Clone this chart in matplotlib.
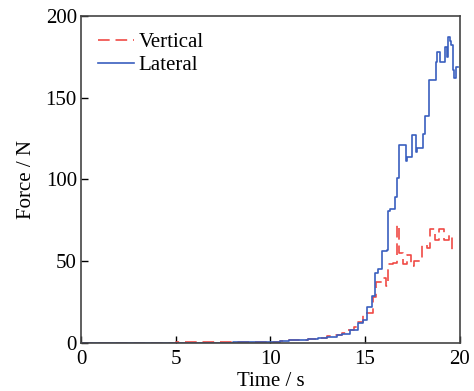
import matplotlib
matplotlib.use("Agg")
import matplotlib.pyplot as plt

# time (s) and force (N), step data
lat_t = [0, 5, 8, 9.5, 10.5, 11, 11.5, 12, 12.5, 13, 13.5, 13.8, 14.2, 14.6,
         14.9, 15.1, 15.35, 15.5, 15.7, 15.9, 16.15, 16.2, 16.3, 16.57,
         16.68, 16.78, 17.15, 17.2, 17.5, 17.7, 17.75, 18.05, 18.15, 18.4,
         18.72, 18.8, 18.93, 19.2, 19.3, 19.37, 19.47, 19.55, 19.62, 19.72,
         19.78, 19.9]
lat_f = [0, 0.2, 0.4, 0.7, 1.0, 1.5, 1.8, 2.3, 2.8, 3.5, 5, 5.5, 8, 12,
         14, 22, 29, 43, 45, 56, 57, 81, 82, 89,
         101, 121, 111, 114, 127, 117, 119, 128, 139, 161,
         172, 178, 172, 181, 175, 187, 185, 182, 167, 162,
         169, 169]

ver_t = [0, 5, 8, 9.5, 10.5, 11, 11.5, 12, 12.5, 13, 13.4, 13.8, 14.1, 14.4,
         14.6, 14.9, 15.4, 15.6, 15.9, 16.12, 16.22, 16.45, 16.67, 16.8,
         17.0, 17.2, 17.4, 17.6, 18.02, 18.28, 18.42, 18.7, 18.88, 19.18,
         19.42, 19.6, 19.85]
ver_f = [0, 0.3, 0.5, 0.8, 1.2, 1.7, 2, 2.5, 3, 4, 5, 6, 8, 10,
         13, 18, 28, 37, 40, 35, 48, 49, 72, 55,
         48, 54, 47, 50, 60, 58, 70, 63, 70, 63,
         66, 57, 57]

xticks = [0, 5, 10, 15, 20]
yticks = [0, 50, 100, 150, 200]

plt.rcParams['font.family'] = 'Liberation Serif'
plt.rcParams['font.size'] = 15

fig = plt.figure(figsize=(4.74, 3.91), dpi=100)
ax = fig.add_axes([0.171, 0.123, 0.799, 0.836])

ax.plot(ver_t, ver_f, drawstyle='steps-post', color='#f04a45', lw=1.2,
        dashes=(7, 3.5), label='Vertical')
ax.plot(lat_t, lat_f, drawstyle='steps-post', color='#3a5fbf', lw=1.2,
        label='Lateral')

ax.set_xlim(0, 20)
ax.set_ylim(0, 200)
ax.set_xticks(xticks)
ax.set_yticks(yticks)
ax.tick_params(direction='in', length=5, width=1, top=False, right=False,
               labelsize=15)
ax.tick_params(axis='x', pad=5)
ax.tick_params(axis='y', pad=3)
for s in ax.spines.values():
    s.set_color('#444444')
    s.set_linewidth(1.2)

ax.set_xlabel('Time / s', labelpad=2)
ax.set_ylabel('Force / N', labelpad=7)
ax.legend(loc='upper left', frameon=False, handlelength=1.75,
          handletextpad=0.2, labelspacing=0.15, borderaxespad=0.4,
          fontsize=15)

fig.savefig('out.png', dpi=100)
